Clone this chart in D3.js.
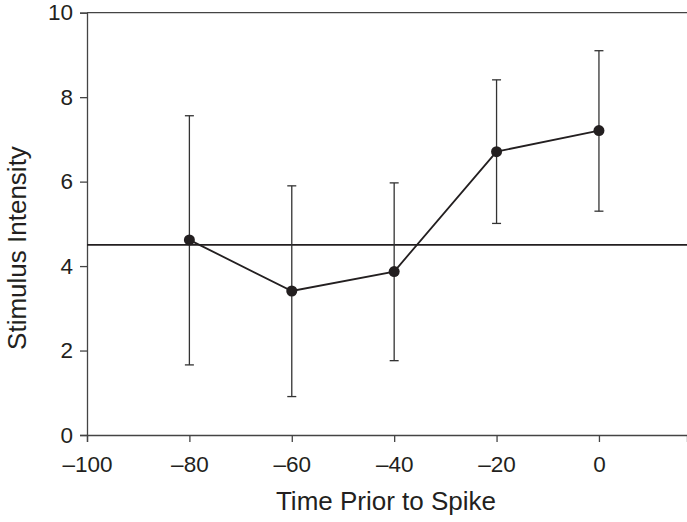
<!DOCTYPE html>
<html>
<head>
<meta charset="utf-8">
<script src="https://cdn.jsdelivr.net/npm/d3@7"></script>
<style>
 body { margin: 0; background: #fff; }
 text { font-family: "Liberation Sans", Arial, sans-serif; fill: #231f20; }
</style>
</head>
<body>
<script>
// data
var times    = [-80, -60, -40, -20, 0]
var means    = [4.62, 3.41, 3.87, 6.71, 7.21]
var errHigh  = [7.56, 5.90, 5.97, 8.41, 9.10]
var errLow   = [1.66, 0.91, 1.76, 5.01, 5.30]
var baseline = 4.5
var xTicks   = [-100, -80, -60, -40, -20, 0]
var yTicks   = [0, 2, 4, 6, 8, 10]

var W = 687, H = 522
var ink = '#231f20'

var svg = d3.select('body').append('svg')
  .attr('width', W).attr('height', H)

var x = d3.scaleLinear().domain([-100, 17.2]).range([87, 687])
var y = d3.scaleLinear().domain([0, 10]).range([435, 12.7])

var fmt = function(d) { return d < 0 ? '\u2013' + Math.abs(d) : '' + d }

// x axis
var gx = svg.append('g').attr('transform', 'translate(0,' + y(0) + ')')
  .call(d3.axisBottom(x).tickValues(xTicks).tickFormat(fmt).tickSizeOuter(0).tickSize(7).tickPadding(14))
// y axis
var gy = svg.append('g').attr('transform', 'translate(' + x(-100) + ',0)')
  .call(d3.axisLeft(y).tickValues(yTicks).tickSizeOuter(0).tickSize(7).tickPadding(7))

;[gx, gy].forEach(function(g) {
  g.selectAll('.domain').attr('stroke', '#444').attr('stroke-width', 1.3)
  g.selectAll('.tick line').attr('stroke', '#444').attr('stroke-width', 1.3)
  g.selectAll('.tick text').style('font-size', '22.5px').attr('fill', ink)
})

// top frame line
svg.append('line')
  .attr('x1', x(-100)).attr('x2', x(17.2))
  .attr('y1', y(10)).attr('y2', y(10))
  .attr('stroke', '#444').attr('stroke-width', 1.3)

// baseline
svg.append('line')
  .attr('x1', x(-100)).attr('x2', x(17.2))
  .attr('y1', y(baseline)).attr('y2', y(baseline))
  .attr('stroke', ink).attr('stroke-width', 1.8)

var pts = times.map(function(t, i) {
  return { t: t, m: means[i], hi: errHigh[i], lo: errLow[i] }
})

// error bars
var eb = svg.selectAll('.err').data(pts).enter().append('g').attr('class', 'err')
  .attr('stroke', '#333').attr('stroke-width', 1.3)
eb.append('line')
  .attr('x1', function(d) { return x(d.t) }).attr('x2', function(d) { return x(d.t) })
  .attr('y1', function(d) { return y(d.hi) }).attr('y2', function(d) { return y(d.lo) })
eb.append('line')
  .attr('x1', function(d) { return x(d.t) - 4.5 }).attr('x2', function(d) { return x(d.t) + 4.5 })
  .attr('y1', function(d) { return y(d.hi) }).attr('y2', function(d) { return y(d.hi) })
eb.append('line')
  .attr('x1', function(d) { return x(d.t) - 4.5 }).attr('x2', function(d) { return x(d.t) + 4.5 })
  .attr('y1', function(d) { return y(d.lo) }).attr('y2', function(d) { return y(d.lo) })

// mean line
svg.append('path').datum(pts)
  .attr('fill', 'none').attr('stroke', ink).attr('stroke-width', 1.8)
  .attr('d', d3.line().x(function(d) { return x(d.t) }).y(function(d) { return y(d.m) }))

svg.selectAll('.pt').data(pts).enter().append('circle').attr('class', 'pt')
  .attr('cx', function(d) { return x(d.t) }).attr('cy', function(d) { return y(d.m) })
  .attr('r', 5.5).attr('fill', ink)

// titles
svg.append('text')
  .attr('x', 386).attr('y', 510)
  .attr('text-anchor', 'middle').style('font-size', '26px')
  .text('Time Prior to Spike')

svg.append('text')
  .attr('transform', 'translate(26,' + 248 + ') rotate(-90)')
  .attr('text-anchor', 'middle').style('font-size', '26px')
  .text('Stimulus Intensity')
</script>
</body>
</html>
